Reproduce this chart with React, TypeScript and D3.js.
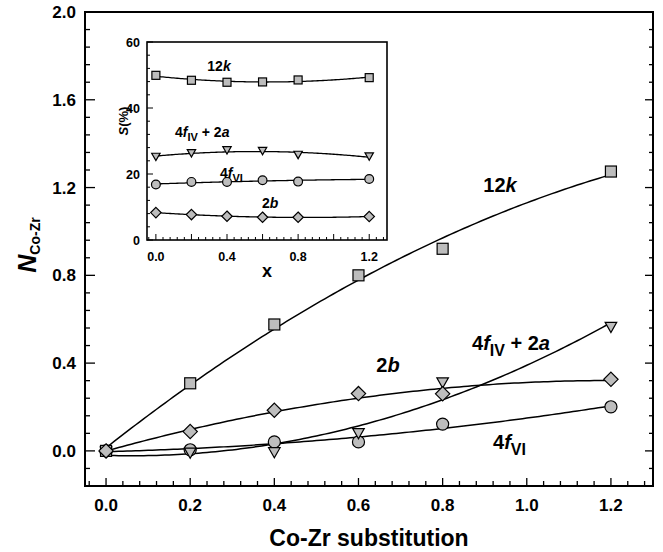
import React from "react";
import * as d3 from "d3";

// substitution levels (x)
const xLevels = [0, 0.2, 0.4, 0.6, 0.8, 1.2];

// main plot: N Co-Zr per site
const n12k = [0, 0.308, 0.576, 0.8, 0.921, 1.273];
const n4fIV2a = [-0.005, -0.01, -0.008, 0.079, 0.31, 0.563];
const n2b = [0, 0.088, 0.185, 0.261, 0.26, 0.326];
const n4fVI = [0, 0.005, 0.041, 0.041, 0.122, 0.201];

// inset: S(%)
const s12k = [49.9, 48.4, 47.8, 47.9, 48.5, 49.2];
const s4fIV2a = [25.2, 26.3, 27.2, 27.0, 25.8, 25.3];
const s4fVI = [16.8, 17.6, 17.6, 18.1, 17.7, 18.5];
const s2b = [8.3, 7.7, 7.2, 6.9, 6.9, 7.1];

const mainYTickLabels = ["0.0", "0.4", "0.8", "1.2", "1.6", "2.0"];
const mainXTickLabels = ["0.0", "0.2", "0.4", "0.6", "0.8", "1.0", "1.2"];
const insetYTickLabels = ["0", "20", "40", "60"];
const insetXTickLabels = ["0.0", "0.4", "0.8", "1.2"];

const FONT = "'Liberation Sans', Arial, Helvetica, sans-serif";
const FILL = "#bdbdbd";

// least squares polynomial fit (the smooth lines in the figure are fits)
function polyfit(xs: number[], ys: number[], deg: number) {
  const n = deg + 1;
  const A = Array.from({ length: n }, () => new Array(n + 1).fill(0));
  for (let i = 0; i < n; i++) {
    for (let j = 0; j < n; j++) {
      A[i][j] = d3.sum(xs, (x) => Math.pow(x, i + j));
    }
    A[i][n] = d3.sum(xs, (x, k) => ys[k] * Math.pow(x, i));
  }
  for (let c = 0; c < n; c++) {
    let p = c;
    for (let r = c + 1; r < n; r++) if (Math.abs(A[r][c]) > Math.abs(A[p][c])) p = r;
    [A[c], A[p]] = [A[p], A[c]];
    for (let r = 0; r < n; r++) {
      if (r === c) continue;
      const f = A[r][c] / A[c][c];
      for (let k = c; k <= n; k++) A[r][k] -= f * A[c][k];
    }
  }
  return A.map((row, i) => row[n] / A[i][i]);
}

function fitPoints(xs: number[], ys: number[], deg = 2): [number, number][] {
  const coef = polyfit(xs, ys, deg);
  const x0 = d3.min(xs)!;
  const x1 = d3.max(xs)!;
  return d3.range(0, 121).map((i) => {
    const xv = x0 + ((x1 - x0) * i) / 120;
    return [xv, d3.sum(coef, (c, k) => c * Math.pow(xv, k))];
  });
}

type Shape = "square" | "circle" | "diamond" | "triangle";

function Marker({ shape, cx, cy, s }: { shape: Shape; cx: number; cy: number; s: number }) {
  const common = { fill: FILL, stroke: "#000", strokeWidth: 1.2 };
  if (shape === "square") return <rect x={cx - s} y={cy - s} width={2 * s} height={2 * s} {...common} />;
  if (shape === "circle") return <circle cx={cx} cy={cy} r={s * 1.1} {...common} />;
  if (shape === "diamond")
    return <path d={`M${cx},${cy - s * 1.3}L${cx + s * 1.3},${cy}L${cx},${cy + s * 1.3}L${cx - s * 1.3},${cy}Z`} {...common} />;
  return <path d={`M${cx - s * 1.05},${cy - s * 0.9}L${cx + s * 1.05},${cy - s * 0.9}L${cx},${cy + s * 0.95}Z`} {...common} />;
}

export default function App() {
  // main scales
  const x = d3.scaleLinear().domain([-0.05, 1.3]).range([85, 653]);
  const y = d3.scaleLinear().domain([-0.16, 2.0]).range([486, 12]);
  // inset scales
  const ix = d3.scaleLinear().domain([-0.05, 1.3]).range([147, 387]);
  const iy = d3.scaleLinear().domain([0, 60]).range([240, 42]);

  const line = d3.line<[number, number]>().x((d) => x(d[0])).y((d) => y(d[1]));
  const iline = d3.line<[number, number]>().x((d) => ix(d[0])).y((d) => iy(d[1]));

  const mainSeries: { vals: number[]; shape: Shape }[] = [
    { vals: n4fVI, shape: "circle" },
    { vals: n4fIV2a, shape: "triangle" },
    { vals: n12k, shape: "square" },
    { vals: n2b, shape: "diamond" },
  ];
  const insetSeries: { vals: number[]; shape: Shape }[] = [
    { vals: s12k, shape: "square" },
    { vals: s4fIV2a, shape: "triangle" },
    { vals: s4fVI, shape: "circle" },
    { vals: s2b, shape: "diamond" },
  ];

  const yTicks = d3.range(-2, 26).map((i) => ({ v: i * 0.08, major: i % 5 === 0 }));
  const xTicks = d3.range(-1, 33).map((i) => ({ v: i * 0.04, major: i % 5 === 0 }));
  const iyTicks = d3.range(0, 16).map((i) => ({ v: i * 4, major: i % 5 === 0 }));

  const [x0, x1] = x.range();
  const [yb, yt] = y.range();

  return (
    <svg width={663} height={552} style={{ position: "absolute", left: 0, top: 0, background: "#fff" }} fontFamily={FONT}>
      {/* main frame ticks */}
      {yTicks.map((t, i) => (
        <g key={"yt" + i}>
          <line x1={x0} x2={x0 + (t.major ? 10 : 5)} y1={y(t.v)} y2={y(t.v)} stroke="#000" strokeWidth={1.3} />
          <line x1={x1} x2={x1 - (t.major ? 8 : 4)} y1={y(t.v)} y2={y(t.v)} stroke="#000" strokeWidth={1.3} />
        </g>
      ))}
      {xTicks.map((t, i) => (
        <line key={"xt" + i} x1={x(t.v)} x2={x(t.v)} y1={yb} y2={yb - (t.major ? 8 : 5)} stroke="#000" strokeWidth={1.3} />
      ))}
      <rect x={x0} y={yt} width={x1 - x0} height={yb - yt} fill="none" stroke="#000" strokeWidth={2} />

      {mainYTickLabels.map((lab) => (
        <text key={lab} x={76} y={y(+lab)} dy="0.36em" textAnchor="end" fontSize={17} fontWeight="bold">
          {lab}
        </text>
      ))}
      {mainXTickLabels.map((lab) => (
        <text key={lab} x={x(+lab)} y={511} textAnchor="middle" fontSize={17} fontWeight="bold">
          {lab}
        </text>
      ))}
      <text x={(x0 + x1) / 2} y={546} textAnchor="middle" fontSize={23} fontWeight="bold">
        Co-Zr substitution
      </text>
      <text transform="translate(36,245) rotate(-90)" textAnchor="middle" fontWeight="bold">
        <tspan fontSize={25} fontStyle="italic">N</tspan>
        <tspan fontSize={14} dy={4}>Co-Zr</tspan>
      </text>

      {/* fitted curves */}
      {mainSeries.map((s, i) => (
        <path key={"ml" + i} d={line(fitPoints(xLevels, s.vals))!} fill="none" stroke="#000" strokeWidth={1.5} />
      ))}
      {mainSeries.map((s, i) =>
        s.vals.map((v, j) => <Marker key={`mm${i}-${j}`} shape={s.shape} cx={x(xLevels[j])} cy={y(v)} s={5.5} />)
      )}

      {/* main labels */}
      <text x={500} y={192} textAnchor="middle" fontSize={20} fontWeight="bold">
        12<tspan fontStyle="italic">k</tspan>
      </text>
      <text x={388} y={372} textAnchor="middle" fontSize={20} fontWeight="bold">
        2<tspan fontStyle="italic">b</tspan>
      </text>
      <text x={472} y={350} fontSize={20} fontWeight="bold">
        4<tspan fontStyle="italic">f</tspan>
        <tspan fontSize={16} dy={6}>IV</tspan>
        <tspan dy={-6}> + 2</tspan>
        <tspan fontStyle="italic">a</tspan>
      </text>
      <text x={493} y={449} fontSize={20} fontWeight="bold">
        4<tspan fontStyle="italic">f</tspan>
        <tspan fontSize={16} dy={6}>VI</tspan>
      </text>

      {/* inset */}
      <rect x={ix.range()[0]} y={iy.range()[1]} width={ix.range()[1] - ix.range()[0]} height={iy.range()[0] - iy.range()[1]} fill="#fff" />
      {iyTicks.map((t, i) => (
        <line key={"iyt" + i} x1={ix.range()[0]} x2={ix.range()[0] + (t.major ? 6 : 3)} y1={iy(t.v)} y2={iy(t.v)} stroke="#000" strokeWidth={1} />
      ))}
      {xTicks.map((t, i) => (
        <line key={"ixt" + i} x1={ix(t.v)} x2={ix(t.v)} y1={iy.range()[0]} y2={iy.range()[0] - (t.major ? 6 : 3)} stroke="#000" strokeWidth={1} />
      ))}
      <rect x={ix.range()[0]} y={iy.range()[1]} width={ix.range()[1] - ix.range()[0]} height={iy.range()[0] - iy.range()[1]} fill="none" stroke="#000" strokeWidth={1.6} />
      {insetYTickLabels.map((lab) => (
        <text key={lab} x={140} y={iy(+lab)} dy="0.36em" textAnchor="end" fontSize={12.5} fontWeight="bold">
          {lab}
        </text>
      ))}
      {insetXTickLabels.map((lab) => (
        <text key={lab} x={ix(+lab)} y={261} textAnchor="middle" fontSize={12.5} fontWeight="bold">
          {lab}
        </text>
      ))}
      <text x={(ix.range()[0] + ix.range()[1]) / 2} y={277} textAnchor="middle" fontSize={18} fontWeight="bold">
        x
      </text>
      <text transform="translate(128,121) rotate(-90)" textAnchor="middle" fontSize={13} fontWeight="bold">
        <tspan fontStyle="italic">S</tspan>(%)
      </text>
      {insetSeries.map((s, i) => (
        <path key={"il" + i} d={iline(fitPoints(xLevels, s.vals))!} fill="none" stroke="#000" strokeWidth={1.3} />
      ))}
      {insetSeries.map((s, i) =>
        s.vals.map((v, j) => <Marker key={`im${i}-${j}`} shape={s.shape} cx={ix(xLevels[j])} cy={iy(v)} s={4} />)
      )}
      <text x={219} y={71} textAnchor="middle" fontSize={14} fontWeight="bold">
        12<tspan fontStyle="italic">k</tspan>
      </text>
      <text x={175} y={137} fontSize={14} fontWeight="bold">
        4<tspan fontStyle="italic">f</tspan>
        <tspan fontSize={11} dy={4}>IV</tspan>
        <tspan dy={-4}> + 2</tspan>
        <tspan fontStyle="italic">a</tspan>
      </text>
      <text x={220} y={178} fontSize={14} fontWeight="bold">
        4<tspan fontStyle="italic">f</tspan>
        <tspan fontSize={11} dy={4}>VI</tspan>
      </text>
      <text x={262} y={208} fontSize={14} fontWeight="bold">
        2<tspan fontStyle="italic">b</tspan>
      </text>
    </svg>
  );
}
